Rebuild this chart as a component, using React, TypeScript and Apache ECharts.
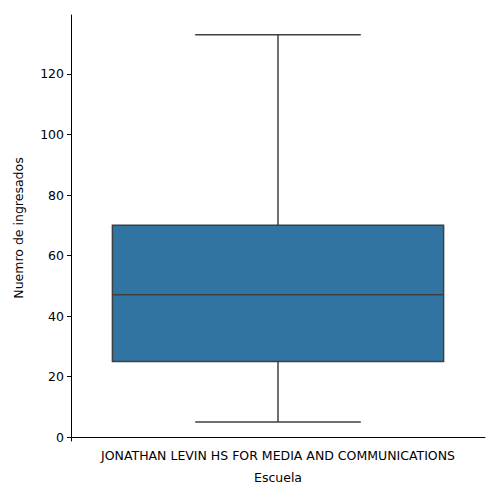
import { useRef, useEffect } from 'react';
import * as echarts from 'echarts';

const categories = ['JONATHAN LEVIN HS FOR MEDIA AND COMMUNICATIONS'];
// [index, whiskerLow, q1, median, q3, whiskerHigh]
const boxStats = [[0, 5, 25, 47, 70, 133]];
const yTicks = [0, 20, 40, 60, 80, 100, 120];

export default function App() {
  const divRef = useRef<HTMLDivElement | null>(null);

  useEffect(() => {
    if (!divRef.current) return;
    const chart = echarts.init(divRef.current, null, { renderer: 'svg' });
    const font = { fontFamily: 'DejaVu Sans', fontSize: 12.5, color: '#000' };
    const edge = '#3f3f3f';
    chart.setOption({
      animation: false,
      grid: { left: 71, right: 15, top: 15, bottom: 59 },
      xAxis: {
        type: 'category',
        data: categories,
        name: 'Escuela',
        nameLocation: 'middle',
        nameGap: 30,
        nameTextStyle: font,
        axisLine: { lineStyle: { color: '#000', width: 1 } },
        axisTick: { alignWithLabel: true, length: 4, lineStyle: { color: '#000' } },
        axisLabel: { ...font, margin: 8 },
      },
      yAxis: {
        type: 'value',
        min: -1.3,
        max: 139.5,
        name: 'Nuemro de ingresados',
        nameLocation: 'middle',
        nameGap: 46,
        nameTextStyle: font,
        splitLine: { show: false },
        axisLine: { show: true, lineStyle: { color: '#000', width: 1 } },
        axisTick: { show: true, length: 4, customValues: yTicks, lineStyle: { color: '#000' } },
        axisLabel: { ...font, customValues: yTicks, margin: 7 },
      },
      series: [
        {
          type: 'custom',
          data: boxStats,
          renderItem: (_params: any, api: any) => {
            const i = api.value(0);
            const [lo, q1, med, q3, hi] = [1, 2, 3, 4, 5].map((d) => api.value(d));
            const band = api.size([1, 0])[0];
            const cx = api.coord([i, 0])[0];
            const y = (v: number) => api.coord([i, v])[1];
            const bw = band * 0.4;
            const cw = band * 0.2;
            const ls = { stroke: edge, lineWidth: 1.5 };
            return {
              type: 'group',
              children: [
                { type: 'line', shape: { x1: cx, y1: y(q3), x2: cx, y2: y(hi) }, style: ls },
                { type: 'line', shape: { x1: cx, y1: y(q1), x2: cx, y2: y(lo) }, style: ls },
                { type: 'line', shape: { x1: cx - cw, y1: y(hi), x2: cx + cw, y2: y(hi) }, style: ls },
                { type: 'line', shape: { x1: cx - cw, y1: y(lo), x2: cx + cw, y2: y(lo) }, style: ls },
                {
                  type: 'rect',
                  shape: { x: cx - bw, y: y(q3), width: bw * 2, height: y(q1) - y(q3) },
                  style: { fill: '#3274a1', stroke: edge, lineWidth: 1.5 },
                },
                { type: 'line', shape: { x1: cx - bw, y1: y(med), x2: cx + bw, y2: y(med) }, style: ls },
              ],
            };
          },
        },
      ],
    });
    return () => chart.dispose();
  }, []);

  return <div ref={divRef} style={{ width: '500px', height: '500px', margin: '-8px' }}></div>;
}
